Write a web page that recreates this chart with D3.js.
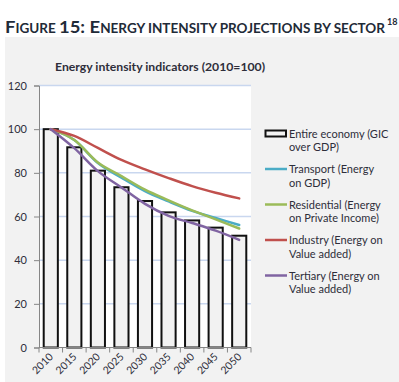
<!DOCTYPE html>
<html>
<head>
<meta charset="utf-8">
<script src="https://cdn.jsdelivr.net/npm/d3@7"></script>
<style>
  html, body { margin: 0; padding: 0; background: #ffffff; }
  svg { display: block; }
</style>
</head>
<body>
<svg id="chart" width="399" height="382"></svg>
<script>
// ---- data ----
const years = ["2010", "2015", "2020", "2025", "2030", "2035", "2040", "2045", "2050"];
const entireEconomy = [100, 91.7, 81.0, 73.4, 67.1, 61.9, 58.2, 54.9, 51.2];
const transport     = [100, 95.0, 84.5, 77.8, 71.6, 66.9, 62.6, 59.3, 56.1];
const residential   = [100, 95.0, 84.7, 78.5, 72.3, 67.4, 62.8, 58.7, 54.5];
const industry      = [100, 96.9, 91.4, 85.9, 81.6, 77.6, 73.9, 70.9, 68.3];
const tertiary      = [100, 91.3, 80.8, 73.3, 65.8, 60.3, 57.0, 53.5, 49.3];
const yTicks = [0, 20, 40, 60, 80, 100, 120];
const lineSeries = [
  { name: "Transport", values: transport, color: "#4bacc6" },
  { name: "Residential", values: residential, color: "#9bbb59" },
  { name: "Industry", values: industry, color: "#c0504d" },
  { name: "Tertiary", values: tertiary, color: "#8064a2" }
];
const legendItems = [
  { type: "bar", lines: ["Entire economy (GIC", "over GDP)"] },
  { type: "line", color: "#4bacc6", lines: ["Transport (Energy", "on GDP)"] },
  { type: "line", color: "#9bbb59", lines: ["Residential (Energy", "on Private Income)"] },
  { type: "line", color: "#c0504d", lines: ["Industry (Energy on", "Value added)"] },
  { type: "line", color: "#8064a2", lines: ["Tertiary (Energy on", "Value added)"] }
];

// ---- layout ----
const svg = d3.select("#chart");
const font = "Lato, 'Open Sans', sans-serif";
const textColor = "#2e2e3a";
const plot = { left: 39, right: 251, top: 85.5, bottom: 347.5 };

// outer chart area background
svg.append("rect").attr("x", 5).attr("y", 37).attr("width", 394).attr("height", 345).attr("fill", "#f2f2f2");

// figure title (small caps)
const figTitle = svg.append("text")
  .attr("x", 5).attr("y", 33)
  .attr("font-family", font).attr("font-weight", 700)
  .attr("fill", "#1f2b38")
  .attr("textLength", 380).attr("lengthAdjust", "spacingAndGlyphs");
const titleParts = [["F", 17], ["IGURE ", 12.5], ["15: E", 17], ["NERGY INTENSITY PROJECTIONS BY SECTOR", 12.5]];
titleParts.forEach(([t, s]) => figTitle.append("tspan").attr("font-size", s).text(t));
svg.append("text").attr("x", 387).attr("y", 25)
  .attr("font-family", font).attr("font-weight", 700).attr("font-size", 9)
  .attr("fill", "#1f2b38").text("18");

// chart title
svg.append("text")
  .attr("x", 55).attr("y", 71)
  .attr("font-family", font).attr("font-weight", 700).attr("font-size", 11)
  .attr("fill", textColor)
  .attr("textLength", 210).attr("lengthAdjust", "spacingAndGlyphs")
  .text("Energy intensity indicators (2010=100)");

// scales
const x = d3.scaleBand().domain(years).range([plot.left, plot.right]).padding(0);
const y = d3.scaleLinear().domain([0, 120]).range([plot.bottom, plot.top]);
const bw = x.bandwidth();
const cx = d => x(d) + bw / 2;

// plot area
svg.append("rect")
  .attr("x", plot.left).attr("y", plot.top)
  .attr("width", plot.right - plot.left).attr("height", plot.bottom - plot.top)
  .attr("fill", "#ffffff");

// gridlines
svg.append("g").selectAll("line").data(yTicks.filter(t => t > 0)).join("line")
  .attr("x1", plot.left).attr("x2", plot.right)
  .attr("y1", d => y(d)).attr("y2", d => y(d))
  .attr("stroke", "#c9d7ef").attr("stroke-width", 1.5);

// bars
const barW = bw * 0.6;
svg.append("g").selectAll("rect").data(years).join("rect")
  .attr("x", d => cx(d) - barW / 2)
  .attr("width", barW)
  .attr("y", (d, i) => y(entireEconomy[i]))
  .attr("height", (d, i) => y(0) - y(entireEconomy[i]))
  .attr("fill", "#f2f2f2")
  .attr("stroke", "#111111").attr("stroke-width", 2);

// y axis
const yAxis = svg.append("g")
  .attr("transform", `translate(${plot.left},0)`)
  .call(d3.axisLeft(y).tickValues(yTicks).tickSize(5).tickPadding(7));
yAxis.select(".domain").attr("stroke", "#868686");
yAxis.selectAll(".tick line").attr("stroke", "#868686");
yAxis.selectAll("text").attr("font-family", font).attr("font-size", 11).attr("fill", textColor);

// x axis: baseline and ticks at band boundaries
svg.append("line")
  .attr("x1", plot.left).attr("x2", plot.right)
  .attr("y1", y(0)).attr("y2", y(0))
  .attr("stroke", "#868686").attr("stroke-width", 1);
const boundaries = years.map(d => x(d)).concat([x(years[years.length - 1]) + bw]);
svg.append("g").selectAll("line").data(boundaries).join("line")
  .attr("x1", d => d).attr("x2", d => d)
  .attr("y1", y(0)).attr("y2", y(0) + 5)
  .attr("stroke", "#868686");
svg.append("g").selectAll("text").data(years).join("text")
  .attr("transform", d => `translate(${cx(d) + 3},${y(0) + 10}) rotate(-45)`)
  .attr("text-anchor", "end")
  .attr("font-family", font).attr("font-size", 10.5)
  .attr("fill", textColor)
  .text(d => d);

// lines
const lineGen = d3.line()
  .x((v, i) => cx(years[i]))
  .y(v => y(v))
  .curve(d3.curveCardinal.tension(0));
svg.append("g").selectAll("path").data(lineSeries).join("path")
  .attr("d", s => lineGen(s.values))
  .attr("fill", "none")
  .attr("stroke", s => s.color)
  .attr("stroke-width", 2.5)
  .attr("stroke-linecap", "round");

// legend
const legend = svg.append("g").attr("transform", "translate(265,133.5)");
legendItems.forEach((item, i) => {
  const g = legend.append("g").attr("transform", `translate(0,${i * 35.5})`);
  if (item.type === "bar") {
    g.append("rect").attr("x", 0.5).attr("y", -3).attr("width", 20.5).attr("height", 6)
      .attr("fill", "#f2f2f2").attr("stroke", "#111111").attr("stroke-width", 2);
  } else {
    g.append("line").attr("x1", 0).attr("x2", 22).attr("y1", 0).attr("y2", 0)
      .attr("stroke", item.color).attr("stroke-width", 2.5);
  }
  item.lines.forEach((t, j) => {
    g.append("text")
      .attr("x", 24).attr("y", 4 + j * 13.5)
      .attr("font-family", font).attr("font-size", 11)
      .attr("fill", textColor)
      .text(t);
  });
});
</script>
</body>
</html>
